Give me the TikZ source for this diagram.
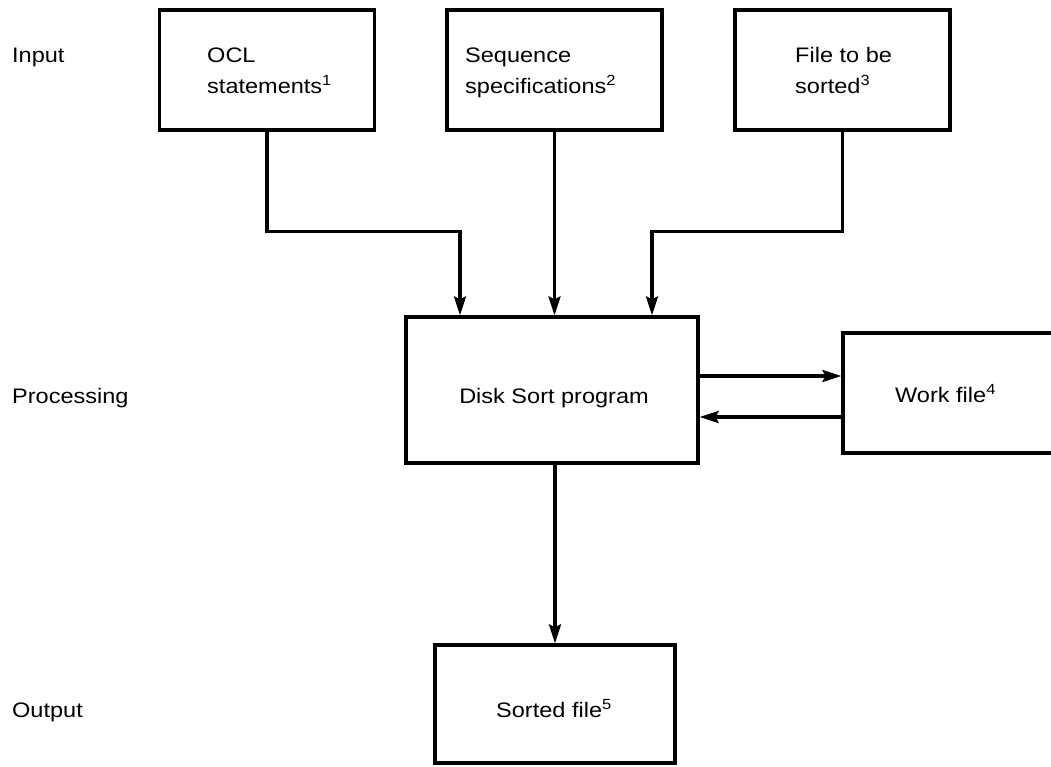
\documentclass[tikz,border=0pt]{standalone}
\usepackage{fontspec}
\setmainfont{Liberation Sans}[FakeStretch=1.12]
\usetikzlibrary{arrows.meta}
\begin{document}
\begin{tikzpicture}[x=1pt,y=-1pt,
  box/.style={draw, line width=3.2pt, inner sep=0pt},
  txt/.style={font=\fontsize{21}{31}\selectfont, inner sep=0pt, anchor=base west},
  flow/.style={line width=3.2pt, -{Stealth[length=19pt,width=12pt,inset=3pt]}},
]
\clip (0,0) rectangle (1051,766);

% row labels
\node[txt] (lin)  at (12,62)  {Input};
\node[txt] (lpro) at (12,403) {Processing};
\node[txt] (lout) at (12,717) {Output};

% input boxes
\node[box, minimum width=215pt, minimum height=120pt] (ocl)  at (267,70) {};
\node[box, minimum width=215pt, minimum height=120pt] (seq)  at (554.5,70) {};
\node[box, minimum width=215pt, minimum height=120pt] (file) at (842.5,70) {};
\node[txt] (ocla)  at (207,62) {OCL};
\node[txt] (oclb)  at (207,93) {statements\textsuperscript{1}};
\node[txt] (seqa)  at (465,62) {Sequence};
\node[txt] (seqb)  at (465,93) {specifications\textsuperscript{2}};
\node[txt] (filea) at (795,62) {File to be};
\node[txt] (fileb) at (795,93) {sorted\textsuperscript{3}};

% processing
\node[box, minimum width=292pt, minimum height=146pt] (disk) at (552,390) {};
\node[txt, anchor=base] (disktxt) at (554,403) {Disk Sort program};
\node[box, minimum width=227pt, minimum height=120pt] (work) at (956.5,393) {};
\node[txt] (worktxt) at (895,402) {Work file\textsuperscript{4}};

% output
\node[box, minimum width=240pt, minimum height=118pt] (sorted) at (555,704) {};
\node[txt, anchor=base] (sortedtxt) at (554,717) {Sorted file\textsuperscript{5}};

% connectors
\draw[flow] (ocl.south) -- ++(0,100) -| (disk.north -| 460,0);
\draw[flow] (seq.south) -- (disk.north -| seq.south);
\draw[flow] (file.south) -- ++(0,100) -| (disk.north -| 652,0);
\draw[flow] (disk.east |- 0,376) -- (work.west |- 0,376);
\draw[flow] (work.west |- 0,417) -- (disk.east |- 0,417);
\draw[flow] (disk.south -| sorted.north) -- (sorted.north);
\end{tikzpicture}
\end{document}
